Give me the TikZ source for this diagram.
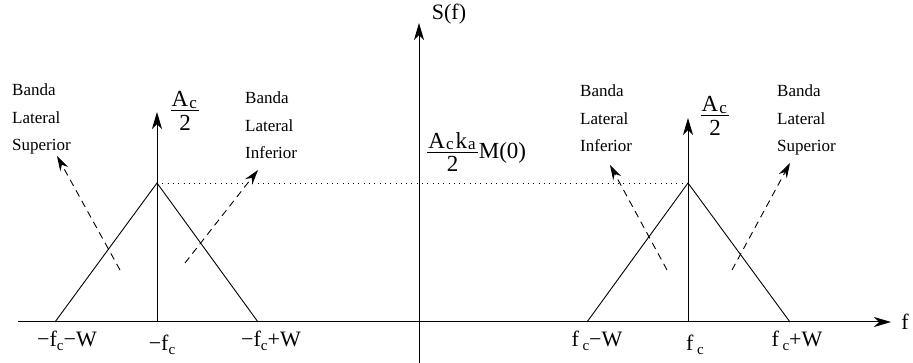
\documentclass[tikz,border=0pt]{standalone}
\usepackage{fontspec}
\setmainfont{Liberation Serif}
\usetikzlibrary{arrows.meta,positioning}
\newcommand{\dn}[1]{\raisebox{-0.45ex}{\fontsize{15}{15}\selectfont #1}}
\newcommand{\lowc}[1]{\raisebox{-0.1ex}{\fontsize{17}{17}\selectfont #1}}
\newcommand{\numr}[1]{\mbox{\kern1pt#1\kern1pt\rule[-3pt]{0pt}{3pt}}}
\newcommand{\denr}[1]{\mbox{\rule{0pt}{19pt}#1}}

\begin{document}
\begin{tikzpicture}[
    x=1pt, y=-1pt,
    axis/.style  = {line width=1pt, -{Stealth[length=17pt, width=10pt, inset=5pt]}},
    tri/.style   = {line width=0.9pt},
    band/.style  = {line width=0.9pt, dash pattern=on 7pt off 5pt,
                    -{Stealth[length=15pt, width=9pt, inset=5pt]}},
    lvl/.style   = {line width=0.9pt, dash pattern=on 1pt off 4.3pt},
    blbl/.style  = {font=\fontsize{17}{27.5}\selectfont, align=left,
                    anchor=north west, inner sep=0pt},
    albl/.style  = {font=\fontsize{22}{24}\selectfont, anchor=base, inner sep=0pt},
    frc/.style   = {font=\fontsize{23}{24}\selectfont, inner sep=0pt},
]
\useasboundingbox (0,0) rectangle (913,363);

%============================ AXES ==================================
\coordinate (xl) at (18,322);
\coordinate (xr) at (891,322);
\coordinate (yb) at (419,363);
\coordinate (yt) at (419,23);
\draw[axis] (xl) -- (xr);
\draw[axis] (yb) -- (yt);
\node[albl] (lf) at (905,330) {f};
\node[albl] (lS) at (449,20) {S(f)};

%============================ LEFT SPIKE ============================
\coordinate (lc)  at (157,322);
\coordinate (lct) at (157,112);
\coordinate (lpk) at (157,183);
\coordinate (lb1) at (55,322);
\coordinate (lb2) at (258,322);
\draw[axis] (lc) -- (lct);
\draw[tri] (lb1) -- (lpk) -- (lb2);
\node[frc] (lA) at (185,111)
      {$\frac{\numr{A\kern1pt\lowc{c}\kern1.5pt}}{\denr{2}}$};

%============================ RIGHT SPIKE ===========================
\coordinate (rc)  at (688,322);
\coordinate (rct) at (688,118);
\coordinate (rpk) at (688,183);
\coordinate (rb1) at (587,322);
\coordinate (rb2) at (790,322);
\draw[axis] (rc) -- (rct);
\draw[tri] (rb1) -- (rpk) -- (rb2);
\node[frc] (rA) at (715,116)
      {$\frac{\numr{A\kern1pt\lowc{c}\kern1.5pt}}{\denr{2}}$};

% --- level of the triangles
\draw[lvl] (lpk) -- (rpk);
\node[frc, anchor=west] (lM) at (426,152)
      {$\frac{\numr{A\kern1pt\lowc{c}\kern2pt k\kern1pt\lowc{a}\kern1pt}}{\denr{2}}$M(0)};

%============================ SIDEBANDS =============================
\coordinate (ls0) at (120,270);  \coordinate (ls1) at (57,156);
\coordinate (li0) at (185,263);  \coordinate (li1) at (258,170);
\coordinate (ri0) at (667,270);  \coordinate (ri1) at (610,165);
\coordinate (rs0) at (732,270);  \coordinate (rs1) at (790,163);
\draw[band] (ls0) -- (ls1);
\draw[band] (li0) -- (li1);
\draw[band] (ri0) -- (ri1);
\draw[band] (rs0) -- (rs1);

\node[blbl] (tls) at (12,84)  {Banda\\Lateral\\Superior};
\node[blbl] (tli) at (245,92) {Banda\\Lateral\\Inferior};
\node[blbl] (tri) at (580,85) {Banda\\Lateral\\Inferior};
\node[blbl] (trs) at (777,85) {Banda\\Lateral\\Superior};

%============================ TICK LABELS ===========================
\node[albl] (t1) at (67,346)  {−f\dn{c}−W};
\node[albl] (t2) at (162,350) {−f\dn{c}};
\node[albl] (t3) at (271,346) {−f\dn{c}+W};
\node[albl] (t4) at (597,346) {f\,\dn{c}−W};
\node[albl] (t5) at (695,350) {f\,\dn{c}};
\node[albl] (t6) at (797,346) {f\,\dn{c}+W};

\end{tikzpicture}
\end{document}
